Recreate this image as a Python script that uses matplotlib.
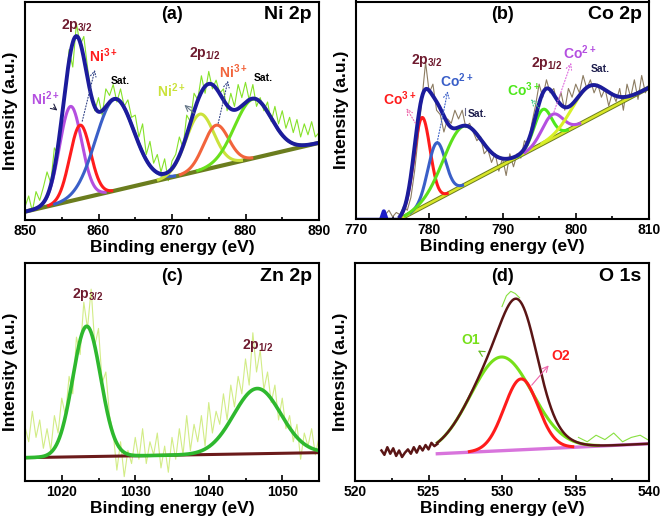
import numpy as np
import matplotlib
matplotlib.use('Agg')
import matplotlib.pyplot as plt
from matplotlib import font_manager as fm

names = {f.name for f in fm.fontManager.ttflist}
FAM = ['Liberation Sans Narrow', 'Liberation Sans', 'DejaVu Sans'] if 'Liberation Sans Narrow' in names else ['Liberation Sans', 'DejaVu Sans']
plt.rcParams['font.family'] = FAM
plt.rcParams['font.weight'] = 'bold'
plt.rcParams['mathtext.fontset'] = 'custom'
plt.rcParams['mathtext.rm'] = FAM[0]
plt.rcParams['mathtext.bf'] = FAM[0] + ':bold'

# ---------------- data ----------------
# (a) Ni 2p
a_base = [3.8, 35.3]                      # baseline at 850 and 890 eV
a_centers = [856.2, 857.5, 862.2, 873.8, 876.0, 881.0]
a_amps = [43.3, 33.7, 41.9, 25.9, 19.1, 27.1]
a_sigmas = [1.5, 1.4, 2.6, 1.9, 1.7, 2.5]
a_raw = [6, 11, 4, 13, 9, 15, 22, 17, 33, 30, 48, 58, 78, 70, 90, 80, 84, 70,
         58, 50, 56, 48, 60, 57, 62, 54, 60, 52, 55, 47, 48, 38, 44, 30, 36, 26,
         30, 22, 28, 18, 27, 30, 38, 33, 48, 45, 58, 55, 66, 58, 68, 60, 64, 58,
         60, 50, 58, 52, 62, 56, 63, 55, 62, 52, 56, 50, 54, 45, 52, 44, 50, 42,
         47, 40, 46, 38, 44, 39, 45, 38, 40]

# (b) Co 2p
b_base = [776.0, 0.0, 810.0, 60.4]        # baseline start x,y and end x,y
b_centers = [779.0, 781.0, 784.5, 795.5, 796.8, 801.8]
b_amps = [41.3, 26.1, 27.3, 15.7, 11.1, 15.2]
b_sigmas = [1.1, 1.2, 2.6, 1.2, 1.4, 2.3]
b_raw = [2, 4, 1, 3, 2, 6, 4, 10, 22, 38, 55, 72, 58, 62, 50, 48, 40, 46, 44, 50,
         46, 50, 42, 44, 40, 36, 38, 30, 32, 26, 30, 22, 28, 20, 30, 24, 30, 28, 36, 34,
         44, 52, 62, 56, 64, 58, 60, 53, 58, 50, 60, 56, 62, 58, 66, 60, 64, 58, 62, 56,
         60, 52, 58, 54, 60, 50, 62, 56, 64, 55, 66, 58, 62]

# (c) Zn 2p
c_base = [10.7, 13.0]
c_centers = [1023.4, 1046.6]
c_amps = [59.8, 29.9]
c_sigmas = [1.9, 3.2]
c_raw = [25, 18, 32, 20, 28, 15, 24, 14, 30, 22, 38, 30, 48, 40, 66, 58, 82, 70,
         88, 62, 70, 45, 50, 30, 22, 5, 18, 2, 14, 8, 20, 10, 24, 8, 18, 12,
         22, 6, 16, 4, 20, 10, 24, 12, 30, 14, 26, 18, 30, 16, 36, 22, 32, 26,
         40, 28, 44, 34, 48, 40, 56, 44, 68, 50, 60, 42, 50, 36, 44, 28, 38, 24,
         30, 18, 26, 10, 22, 16, 24, 12, 20]

# (d) O 1s
d_base = [525.6, 12.5, 540.0, 17.1]
d_centers = [529.95, 531.3]
d_amps = [43.0, 32.5]
d_sigmas = [2.1, 1.15]
d_left_x = [521.8, 522.0, 522.2, 522.4, 522.6, 522.8, 523.0, 523.2, 523.4, 523.6,
            523.8, 524.0, 524.2, 524.4, 524.6, 524.8, 525.0, 525.2, 525.4, 525.6]
d_left_y = [14, 12, 15.5, 12.5, 15, 11.5, 14, 11, 13, 14.5, 12.5, 15.5, 13, 16,
            14, 16.5, 14.5, 17.5, 16, 17]
d_raw1_x = [530.0, 530.3, 530.6, 530.9, 531.2]
d_raw1_y = [80, 85, 87, 86, 84]
d_raw2_x = [535.2, 535.8, 536.4, 537.0, 537.6, 538.2, 538.8, 539.4, 539.9]
d_raw2_y = [20, 18, 21, 19, 22, 18, 20, 21, 19]


def gauss(x, c, a, s):
    return a * np.exp(-(x - c) ** 2 / (2 * s ** 2))


fig = plt.figure(figsize=(6.61, 5.22), dpi=100)
W, H = 661, 522


def mkax(l, t, r, b):
    return fig.add_axes([l / W, 1 - b / H, (r - l) / W, (b - t) / H])


axa = mkax(25, 1.5, 319, 220)
axb = mkax(356, 1.5, 649, 219)
axc = mkax(25, 263, 319, 481)
axd = mkax(355, 263, 649, 481)


def style(ax, xlim, title, name):
    ax.set_xlim(*xlim)
    ax.set_ylim(0, 100)
    ax.set_yticks([])
    ax.set_xticks(np.arange(xlim[0] if xlim[0] % 10 == 0 else xlim[0] + 5, xlim[1] + 0.1, 10))
    ax.set_xticks(np.arange(xlim[0], xlim[1] + 0.1, 5), minor=True)
    ax.tick_params(axis='x', which='both', direction='in', labelsize=10, width=1.2)
    ax.tick_params(axis='x', which='major', length=4, pad=3)
    ax.tick_params(axis='x', which='minor', length=2.5)
    for sp in ax.spines.values():
        sp.set_linewidth(1.5)
    ax.set_xlabel('Binding energy (eV)', fontsize=12.5, fontweight='bold', labelpad=1.5)
    ax.set_ylabel('Intensity (a.u.)', fontsize=12.5, fontweight='bold', labelpad=5)
    ax.text(0.5, 0.94, title, transform=ax.transAxes, ha='center', va='center',
            fontsize=13, fontweight='bold')
    ax.text(0.975, 0.94, name, transform=ax.transAxes, ha='right', va='center',
            fontsize=14, fontweight='bold')


def boldticks(ax):
    for lab in ax.get_xticklabels():
        lab.set_fontweight('bold')


NAVY = '#1c1c9c'
MAROON = '#6e1a2e'

# ---- (a)
x = np.linspace(850, 890, 801)
base = a_base[0] + (a_base[1] - a_base[0]) * (x - 850) / 40
xr = np.linspace(850, 890, len(a_raw))
axa.plot(xr, a_raw, color='#86e22a', lw=0.8)
axa.plot(x, base, color='#6b7d1e', lw=3)
a_cols = ['#b44fe0', '#ff1c1c', '#3a5fc8', '#cbe23c', '#f2643c', '#6ae01c']
env = base.copy()
for c, a, s, col in zip(a_centers, a_amps, a_sigmas, a_cols):
    g = gauss(x, c, a, s)
    env += g
    m = g > 0.3
    axa.plot(x[m], (base + g)[m], color=col, lw=2.2)
axa.plot(x, env, color=NAVY, lw=2.8)
style(axa, (850, 890), '(a)', 'Ni 2p')
boldticks(axa)
axa.text(857.0, 89, r'$\mathbf{2p_{3/2}}$', color=MAROON, ha='center', va='center', fontsize=10)
axa.text(874.5, 76, r'$\mathbf{2p_{1/2}}$', color=MAROON, ha='center', va='center', fontsize=10)
axa.text(860.6, 75, r'$\mathbf{Ni^{3+}}$', color='#ff1c1c', ha='center', va='center', fontsize=10)
axa.annotate('', xy=(859.6, 70), xytext=(857.7, 44),
             arrowprops=dict(arrowstyle='->', color='#334488', lw=0.8, ls=':'))
axa.text(852.8, 55.5, r'$\mathbf{Ni^{2+}}$', color='#b44fe0', ha='center', va='center', fontsize=10)
axa.annotate('', xy=(854.7, 49.3), xytext=(853.6, 52.3),
             arrowprops=dict(arrowstyle='->', color='#222244', lw=0.8))
axa.text(863.0, 63.5, 'Sat.', color='black', ha='center', va='center', fontsize=7.5)
axa.text(869.9, 59, r'$\mathbf{Ni^{2+}}$', color='#cbe23c', ha='center', va='center', fontsize=10)
axa.annotate('', xy=(871.4, 53.5), xytext=(873.3, 48),
             arrowprops=dict(arrowstyle='->', color='#667788', lw=0.8))
axa.text(878.3, 68, r'$\mathbf{Ni^{3+}}$', color='#f2643c', ha='center', va='center', fontsize=10)
axa.annotate('', xy=(877.7, 65), xytext=(876.2, 43),
             arrowprops=dict(arrowstyle='->', color='#334488', lw=0.8, ls=':'))
axa.text(882.4, 65, 'Sat.', color='black', ha='center', va='center', fontsize=7.5)

# ---- (b)
x = np.linspace(b_base[0], 810, 681)
base = b_base[1] + (b_base[3] - b_base[1]) * (x - b_base[0]) / (b_base[2] - b_base[0])
xr = np.linspace(774, 810, len(b_raw))
axb.plot(xr, b_raw, color='#8c7c62', lw=0.8)
axb.plot([773.5, 773.8, 774.1], [0.5, 3.5, 0.5], color='#1c1cc8', lw=3)
axb.plot(x, base, color='#6b7d1e', lw=3.2)
axb.plot(x, base, color='#d8e628', lw=1.8)
b_cols = ['#ff1c1c', '#3a5fc8', '#5ce01c', '#4ee81c', '#b44fe0', '#d8f028']
env = base.copy()
for c, a, s, col in zip(b_centers, b_amps, b_sigmas, b_cols):
    g = gauss(x, c, a, s)
    env += g
    m = g > 0.3
    axb.plot(x[m], (base + g)[m], color=col, lw=2.2)
axb.plot(x, env, color=NAVY, lw=2.8)
axb.plot([770, 776], [0, 0], color=NAVY, lw=2.5)
style(axb, (770, 810), '(b)', 'Co 2p')
boldticks(axb)
axb.text(779.6, 73, r'$\mathbf{2p_{3/2}}$', color=MAROON, ha='center', va='center', fontsize=10)
axb.text(796.0, 71.5, r'$\mathbf{2p_{1/2}}$', color=MAROON, ha='center', va='center', fontsize=10)
axb.text(776.0, 55.5, r'$\mathbf{Co^{3+}}$', color='#ff1c1c', ha='center', va='center', fontsize=10)
axb.annotate('', xy=(776.7, 52), xytext=(778.3, 43),
             arrowprops=dict(arrowstyle='->', color='#ee66aa', lw=0.8, ls=':'))
axb.text(783.8, 63.5, r'$\mathbf{Co^{2+}}$', color='#3a5fc8', ha='center', va='center', fontsize=10)
axb.annotate('', xy=(782.6, 60), xytext=(781.0, 34),
             arrowprops=dict(arrowstyle='->', color='#3a5fc8', lw=0.8, ls=':'))
axb.text(786.6, 48.5, 'Sat.', color='#1c1c4c', ha='center', va='center', fontsize=7.5)
axb.plot([784.9, 784.9], [48, 51], color='#666688', lw=0.8)
axb.text(792.9, 59.5, r'$\mathbf{Co^{3+}}$', color='#4ee81c', ha='center', va='center', fontsize=10)
axb.annotate('', xy=(793.6, 56), xytext=(795.3, 50),
             arrowprops=dict(arrowstyle='->', color='#44cc88', lw=0.8, ls=':'))
axb.text(800.5, 76.5, r'$\mathbf{Co^{2+}}$', color='#b44fe0', ha='center', va='center', fontsize=10)
axb.annotate('', xy=(799.5, 73), xytext=(796.9, 48),
             arrowprops=dict(arrowstyle='->', color='#dd66dd', lw=0.8, ls=':'))
axb.text(803.4, 69, 'Sat.', color='#1c1c4c', ha='center', va='center', fontsize=7.5)

# ---- (c)
x = np.linspace(1015, 1055, 801)
base = c_base[0] + (c_base[1] - c_base[0]) * (x - 1015) / 40
xr = np.linspace(1015, 1055, len(c_raw))
axc.plot(xr, c_raw, color='#d2ec86', lw=0.8)
axc.plot(x, base, color='#6b1a1a', lw=2.2)
env = base.copy()
for c, a, s in zip(c_centers, c_amps, c_sigmas):
    env += gauss(x, c, a, s)
axc.plot(x, env, color='#2eb82e', lw=2.6)
style(axc, (1015, 1055), '(c)', 'Zn 2p')
boldticks(axc)
axc.text(1023.6, 85.5, r'$\mathbf{2p_{3/2}}$', color=MAROON, ha='center', va='center', fontsize=10)
axc.text(1046.7, 62, r'$\mathbf{2p_{1/2}}$', color=MAROON, ha='center', va='center', fontsize=10)

# ---- (d)
x = np.linspace(d_base[0], 540, 581)
base = d_base[1] + (d_base[3] - d_base[1]) * (x - d_base[0]) / (d_base[2] - d_base[0])
axd.plot(d_raw1_x, d_raw1_y, color='#88e040', lw=0.8)
axd.plot(d_raw2_x, d_raw2_y, color='#88e040', lw=0.8)
axd.plot(x, base, color='#d874dc', lw=2.4)
d_cols = ['#77e01a', '#ff1c1c']
env = base.copy()
for c, a, s, col in zip(d_centers, d_amps, d_sigmas, d_cols):
    g = gauss(x, c, a, s)
    env += g
    m = g > 0.3
    axd.plot(x[m], (base + g)[m], color=col, lw=2.2)
axd.plot(d_left_x, d_left_y, color='#5a1515', lw=1.8)
axd.plot(x, env, color='#5a1515', lw=1.8)
style(axd, (520, 540), '(d)', 'O 1s')
axd.set_xticks([520, 525, 530, 535, 540])
axd.set_xticks(np.arange(520, 540.1, 2.5), minor=True)
boldticks(axd)
axd.text(527.9, 64.5, 'O1', color='#77e01a', ha='center', va='center', fontsize=10, fontweight='bold')
axd.annotate('', xy=(528.2, 60.5), xytext=(528.7, 58.5),
             arrowprops=dict(arrowstyle='->', color='#66bb22', lw=0.8))
axd.text(534.0, 57.5, 'O2', color='#ff1c1c', ha='center', va='center', fontsize=10, fontweight='bold')
axd.annotate('', xy=(533.3, 54), xytext=(531.9, 43),
             arrowprops=dict(arrowstyle='->', color='#ee66aa', lw=0.8))

fig.savefig('out.png', dpi=100)
